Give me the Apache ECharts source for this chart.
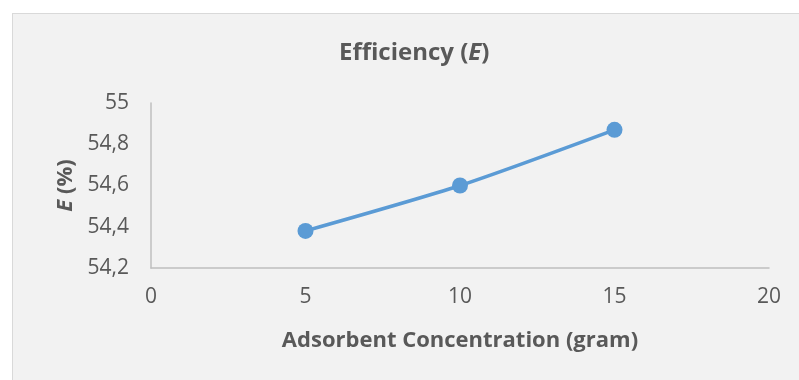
<!DOCTYPE html>
<html>
<head>
<meta charset="utf-8">
<script src="https://cdn.jsdelivr.net/npm/echarts@6/dist/echarts.min.js"></script>
<style>
html,body{margin:0;padding:0;background:#ffffff;}
#wrap{position:relative;width:799px;height:380px;overflow:hidden;}
#frame{position:absolute;left:12px;top:13px;width:800px;height:400px;background:#f2f2f2;border:1px solid #d9d9d9;box-sizing:border-box;}
#chart{position:absolute;left:0;top:0;width:799px;height:380px;}
</style>
</head>
<body>
<div id="wrap"><div id="frame"></div><div id="chart"></div></div>
<script>
const xValues = [5, 10, 15];
const efficiency = [54.38, 54.6, 54.87];
const xTicks = [0, 5, 10, 15, 20];
const yTicks = [54.2, 54.4, 54.6, 54.8, 55];

const FONT = '"Open Sans", sans-serif';
const C = '#595959';
const bold = size => ({ fontFamily: FONT, fontSize: size, fontWeight: 'bold', color: C });
const boldItalic = size => ({ fontFamily: FONT, fontSize: size, fontWeight: 'bold', fontStyle: 'italic', color: C });

const chart = echarts.init(document.getElementById('chart'), null, {renderer: 'canvas'});
chart.setOption({
  backgroundColor: 'transparent',
  animation: false,
  title: {
    text: '{t|Efficiency (}{i|E}{t|)}',
    left: 334,
    top: 36,
    textStyle: Object.assign(bold(24), { rich: { t: bold(24), i: boldItalic(24) } })
  },
  grid: { left: 151, right: 30, top: 103, bottom: 112 },
  xAxis: {
    type: 'value',
    min: xTicks[0], max: xTicks[xTicks.length - 1], interval: 5,
    name: 'Adsorbent Concentration (gram)',
    nameLocation: 'middle', nameGap: 62,
    nameTextStyle: bold(22),
    axisLine: { show: true, lineStyle: { color: '#bfbfbf', width: 1.5 } },
    axisTick: { show: false },
    splitLine: { show: false },
    axisLabel: { fontFamily: FONT, fontSize: 21, color: C, margin: 19 }
  },
  yAxis: {
    type: 'value',
    min: yTicks[0], max: yTicks[yTicks.length - 1], interval: 0.2,
    name: '{i|E}{t| (%)}',
    nameLocation: 'middle', nameGap: 72, nameRotate: 90,
    nameTextStyle: Object.assign(bold(22), { rich: { t: bold(22), i: boldItalic(22) } }),
    axisLine: { show: true, lineStyle: { color: '#bfbfbf', width: 1.5 } },
    axisTick: { show: false },
    splitLine: { show: false },
    axisLabel: {
      fontFamily: FONT, fontSize: 21, color: C, margin: 22,
      formatter: v => String(Math.round(v * 10) / 10).replace('.', ',')
    }
  },
  series: [{
    type: 'line',
    data: xValues.map((x, i) => [x, efficiency[i]]),
    smooth: 0.25,
    symbol: 'circle',
    symbolSize: 16,
    lineStyle: { color: '#5b9bd5', width: 3.5 },
    itemStyle: { color: '#5b9bd5' }
  }]
});
</script>
</body>
</html>
